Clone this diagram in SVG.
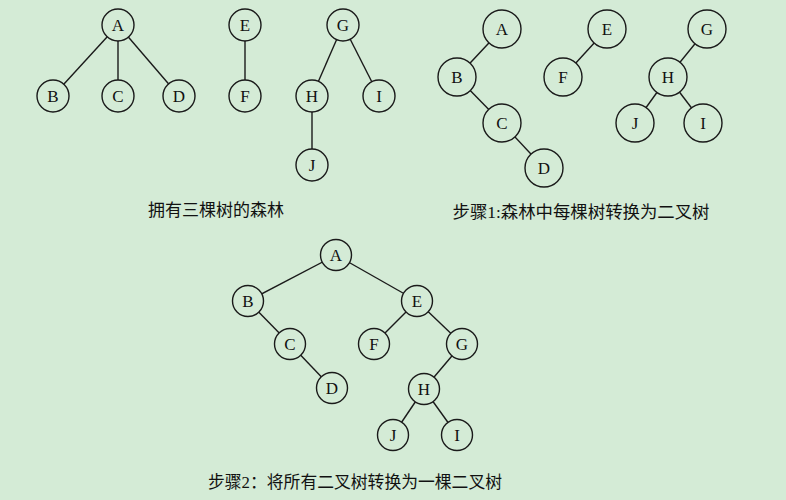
<svg xmlns="http://www.w3.org/2000/svg" width="786" height="500" viewBox="0 0 786 500">
<style>
.bg{fill:#d4ebd6}
.e{stroke:#1a1a1a;stroke-width:1.4;fill:none}
.n circle{fill:#d4ebd6;stroke:#1a1a1a;stroke-width:1.4}
.n text{font-family:"Liberation Serif",serif;font-size:17px;fill:#111;text-anchor:middle;dominant-baseline:central}
.cap{font-family:"Liberation Serif","Noto Sans CJK SC",serif;font-size:17px;fill:#111;text-anchor:middle}
</style>
<rect class="bg" x="0" y="0" width="786" height="500"/>
<g id="connectors">
<line class="e" x1="118" y1="25" x2="53" y2="96"/>
<line class="e" x1="118" y1="25" x2="118" y2="96"/>
<line class="e" x1="118" y1="25" x2="179" y2="96"/>
<line class="e" x1="245" y1="25" x2="245" y2="96"/>
<line class="e" x1="343" y1="25" x2="312" y2="96"/>
<line class="e" x1="343" y1="25" x2="379" y2="96"/>
<line class="e" x1="312" y1="96" x2="312" y2="165"/>
<line class="e" x1="502" y1="29" x2="457" y2="77"/>
<line class="e" x1="457" y1="77" x2="502" y2="123"/>
<line class="e" x1="502" y1="123" x2="544" y2="168"/>
<line class="e" x1="607" y1="29" x2="563" y2="77"/>
<line class="e" x1="707" y1="29" x2="668" y2="77"/>
<line class="e" x1="668" y1="77" x2="635" y2="123"/>
<line class="e" x1="668" y1="77" x2="703" y2="123"/>
<line class="e" x1="336" y1="255" x2="248" y2="301"/>
<line class="e" x1="336" y1="255" x2="417" y2="301"/>
<line class="e" x1="248" y1="301" x2="290" y2="344"/>
<line class="e" x1="290" y1="344" x2="332" y2="388"/>
<line class="e" x1="417" y1="301" x2="374" y2="344"/>
<line class="e" x1="417" y1="301" x2="462" y2="344"/>
<line class="e" x1="462" y1="344" x2="424" y2="389"/>
<line class="e" x1="424" y1="389" x2="393" y2="435"/>
<line class="e" x1="424" y1="389" x2="457" y2="435"/>
</g>
<g id="forest">
<g id="f-A" class="n"><circle cx="118" cy="25" r="16"/><text x="118" y="25">A</text></g>
<g id="f-B" class="n"><circle cx="53" cy="96" r="16"/><text x="53" y="96">B</text></g>
<g id="f-C" class="n"><circle cx="118" cy="96" r="16"/><text x="118" y="96">C</text></g>
<g id="f-D" class="n"><circle cx="179" cy="96" r="16"/><text x="179" y="96">D</text></g>
<g id="f-E" class="n"><circle cx="245" cy="25" r="16"/><text x="245" y="25">E</text></g>
<g id="f-F" class="n"><circle cx="245" cy="96" r="16"/><text x="245" y="96">F</text></g>
<g id="f-G" class="n"><circle cx="343" cy="25" r="16"/><text x="343" y="25">G</text></g>
<g id="f-H" class="n"><circle cx="312" cy="96" r="16"/><text x="312" y="96">H</text></g>
<g id="f-I" class="n"><circle cx="379" cy="96" r="16"/><text x="379" y="96">I</text></g>
<g id="f-J" class="n"><circle cx="312" cy="165" r="16"/><text x="312" y="165">J</text></g>
</g>
<g id="step1">
<g id="s1-A" class="n"><circle cx="502" cy="29" r="19"/><text x="502" y="29">A</text></g>
<g id="s1-B" class="n"><circle cx="457" cy="77" r="19"/><text x="457" y="77">B</text></g>
<g id="s1-C" class="n"><circle cx="502" cy="123" r="19"/><text x="502" y="123">C</text></g>
<g id="s1-D" class="n"><circle cx="544" cy="168" r="19"/><text x="544" y="168">D</text></g>
<g id="s1-E" class="n"><circle cx="607" cy="29" r="19"/><text x="607" y="29">E</text></g>
<g id="s1-F" class="n"><circle cx="563" cy="77" r="19"/><text x="563" y="77">F</text></g>
<g id="s1-G" class="n"><circle cx="707" cy="29" r="19"/><text x="707" y="29">G</text></g>
<g id="s1-H" class="n"><circle cx="668" cy="77" r="19"/><text x="668" y="77">H</text></g>
<g id="s1-J" class="n"><circle cx="635" cy="123" r="19"/><text x="635" y="123">J</text></g>
<g id="s1-I" class="n"><circle cx="703" cy="123" r="19"/><text x="703" y="123">I</text></g>
</g>
<g id="step2">
<g id="s2-A" class="n"><circle cx="336" cy="255" r="15.5"/><text x="336" y="255">A</text></g>
<g id="s2-B" class="n"><circle cx="248" cy="301" r="15.5"/><text x="248" y="301">B</text></g>
<g id="s2-E" class="n"><circle cx="417" cy="301" r="15.5"/><text x="417" y="301">E</text></g>
<g id="s2-C" class="n"><circle cx="290" cy="344" r="15.5"/><text x="290" y="344">C</text></g>
<g id="s2-F" class="n"><circle cx="374" cy="344" r="15.5"/><text x="374" y="344">F</text></g>
<g id="s2-G" class="n"><circle cx="462" cy="344" r="15.5"/><text x="462" y="344">G</text></g>
<g id="s2-D" class="n"><circle cx="332" cy="388" r="15.5"/><text x="332" y="388">D</text></g>
<g id="s2-H" class="n"><circle cx="424" cy="389" r="15.5"/><text x="424" y="389">H</text></g>
<g id="s2-J" class="n"><circle cx="393" cy="435" r="15.5"/><text x="393" y="435">J</text></g>
<g id="s2-I" class="n"><circle cx="457" cy="435" r="15.5"/><text x="457" y="435">I</text></g>
</g>
<g id="captions">
<text class="cap" x="216" y="216">拥有三棵树的森林</text>
<text class="cap" x="581" y="218" textLength="257" lengthAdjust="spacingAndGlyphs">步骤1:森林中每棵树转换为二叉树</text>
<text class="cap" x="355" y="488" textLength="294" lengthAdjust="spacingAndGlyphs">步骤2：将所有二叉树转换为一棵二叉树</text>
</g>
</svg>
